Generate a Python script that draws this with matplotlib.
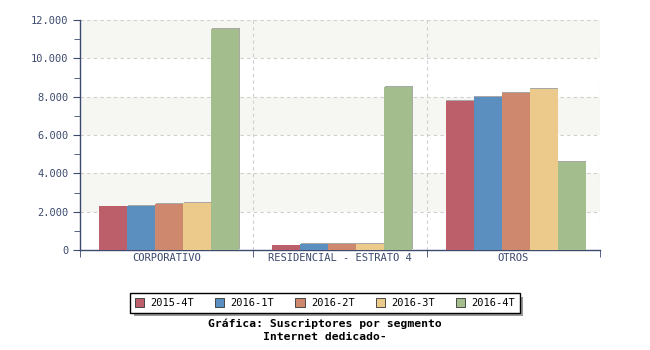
import matplotlib
matplotlib.use("Agg")
import matplotlib.pyplot as plt
import matplotlib.patheffects as pe
from matplotlib.ticker import FuncFormatter, MultipleLocator, FixedLocator
import numpy as np

categories = ["CORPORATIVO", "RESIDENCIAL - ESTRATO 4", "OTROS"]
series_names = ["2015-4T", "2016-1T", "2016-2T", "2016-3T", "2016-4T"]
values = {
    "2015-4T": [2270, 240, 7760],
    "2016-1T": [2320, 310, 7970],
    "2016-2T": [2390, 310, 8180],
    "2016-3T": [2440, 300, 8400],
    "2016-4T": [11520, 8510, 4590],
}
colors = ["#bd5f6a", "#5b8fbf", "#ce886e", "#ebca8b", "#a3bd8c"]

font = "DejaVu Sans Mono"
axis_color = "#3c4a6e"

fig = plt.figure(figsize=(6.5, 3.5), dpi=100)
ax = fig.add_axes([80/650, 1-250/350, 520/650, 230/350])

ax.set_xlim(-0.5, 2.5)
ax.set_ylim(0, 12000)

for lo in (2000, 6000, 10000):
    ax.axhspan(lo, lo + 2000, color="#f6f6f2", zorder=0, lw=0)
for y in range(2000, 12001, 2000):
    ax.axhline(y, color="#cfcfcf", lw=0.8, ls=(0, (3, 3)), zorder=1)
for xb in (0.5, 1.5, 2.5):
    ax.axvline(xb, color="#cfcfcf", lw=0.8, ls=(0, (3, 3)), zorder=1)

x = np.arange(len(categories))
w = 0.1616
for i, (name, c) in enumerate(zip(series_names, colors)):
    bars = ax.bar(x + (i - 2) * w + 0.013, values[name], width=w, color=c,
                  zorder=3, label=name, lw=0)
    for b in bars:
        b.set_path_effects([pe.SimplePatchShadow(offset=(0.6, 0.6),
                                                 shadow_rgbFace="#a8a8a8", alpha=1.0),
                            pe.Normal()])

for s in ("top", "right"):
    ax.spines[s].set_visible(False)
for s in ("left", "bottom"):
    ax.spines[s].set_color(axis_color)
    ax.spines[s].set_linewidth(1.0)

ax.yaxis.set_major_locator(MultipleLocator(2000))
ax.yaxis.set_minor_locator(MultipleLocator(1000))
ax.yaxis.set_major_formatter(FuncFormatter(lambda v, p: f"{int(v):,}".replace(",", ".")))
ax.tick_params(axis="y", which="both", direction="out", color=axis_color,
               labelcolor="#3c4a6e", labelsize=7.5)
ax.tick_params(axis="y", which="major", length=5)
ax.tick_params(axis="y", which="minor", length=4)

ax.set_xticks(x)
ax.set_xticklabels(categories)
ax.xaxis.set_minor_locator(FixedLocator([-0.5, 0.5, 1.5, 2.5]))
ax.tick_params(axis="x", which="major", length=0, pad=2, labelcolor="#3c4a6e", labelsize=7.5)
ax.tick_params(axis="x", which="minor", length=5, color=axis_color, direction="out")

for lab in ax.get_xticklabels() + ax.get_yticklabels():
    lab.set_family(font)

leg = fig.legend(loc="center", bbox_to_anchor=(325/650, 1-303/350), ncol=5,
                 frameon=True, fancybox=False, shadow=False, framealpha=1.0,
                 prop={"family": font, "size": 7.5},
                 handlelength=0.9, handleheight=0.9, handletextpad=0.6,
                 columnspacing=2.0, borderpad=0.45, edgecolor="black")
leg.get_frame().set_linewidth(1.0)
leg.get_frame().set_facecolor("white")
leg.get_frame().set_path_effects([pe.SimplePatchShadow(offset=(2.5, -2.5),
                                                       shadow_rgbFace="#999999", alpha=1.0),
                                  pe.Normal()])
for h in leg.legend_handles:
    h.set_edgecolor("#333333")
    h.set_linewidth(0.6)
    h.set_path_effects([])

fig.text(325/650, 1-324/350, "Gráfica: Suscriptores por segmento", ha="center", va="center",
         family=font, fontweight="bold", fontsize=8.2, color="black")
fig.text(325/650, 1-337/350, "Internet dedicado-", ha="center", va="center",
         family=font, fontweight="bold", fontsize=8.2, color="black")

fig.savefig("out.png", dpi=100)
